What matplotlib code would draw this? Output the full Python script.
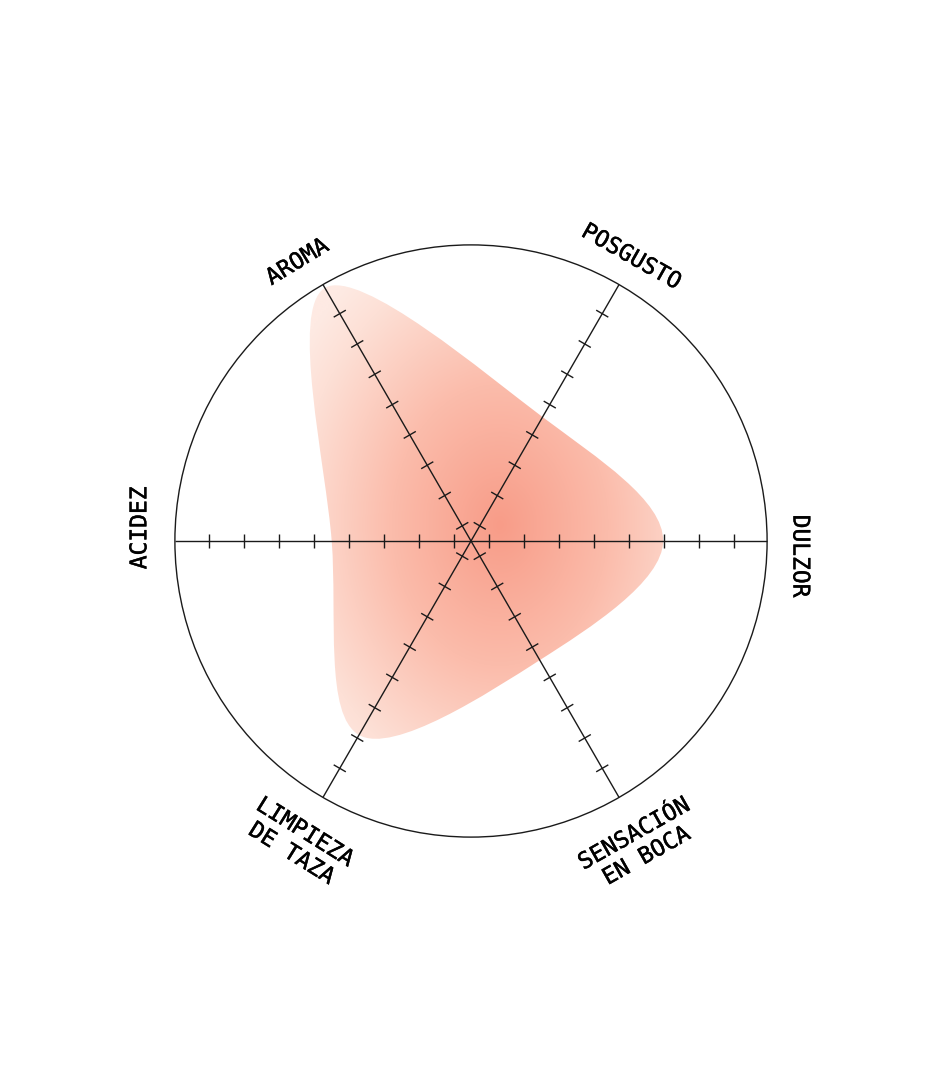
import matplotlib
matplotlib.use("Agg")
import matplotlib.pyplot as plt
import numpy as np
from matplotlib.path import Path
from matplotlib.patches import PathPatch, Circle
from matplotlib.collections import LineCollection
from matplotlib.colors import LinearSegmentedColormap
import matplotlib.patheffects as pe


# one axis per attribute, counter-clockwise from the right
labels = ["DULZOR", "POSGUSTO", "AROMA", "ACIDEZ", "LIMPIEZA\nDE TAZA", "SENSACIÓN\nEN BOCA"]
angles = [0, 60, 120, 180, 240, 300]
values = [5.49, 4.09, 8.35, 3.98, 6.4, 3.93]
ticks = [0.5, 1.5, 2.5, 3.5, 4.5, 5.5, 6.5, 7.5]
r_max = 8.46

# label placement (radius, angle, rotation)
label_r = [9.41, 9.32, 9.39, 9.47, 9.94, 9.94]
label_ang = [-2.6, 60.6, 121.9, 177.75, 240.2, 299.1]
label_rot = [-90, -29.5, 31.5, 90, -32, 29.5]

px = 35.0  # pixels per unit
cx, cy = 471, 541

fig = plt.figure(figsize=(9.5, 10.8), dpi=100)
ax = fig.add_axes([0, 0, 1, 1])
ax.set_xlim(-cx / px, (950 - cx) / px)
ax.set_ylim(-(1080 - cy) / px, cy / px)
ax.set_aspect("equal")
ax.axis("off")

th = np.deg2rad(angles)
vals = np.array(values)
pts = np.column_stack([vals * np.cos(th), vals * np.sin(th)])

# closed cardinal spline through the points, as cubic beziers
n = len(pts)
verts = [pts[0]]
codes = [Path.MOVETO]
for i in range(n):
    p0, p1, p2, p3 = pts[i - 1], pts[i], pts[(i + 1) % n], pts[(i + 2) % n]
    c1 = p1 + (p2 - p0) / 6
    c2 = p2 - (p3 - p1) / 6
    verts += [c1, c2, p2]
    codes += [Path.CURVE4] * 3
verts.append(pts[0])
codes.append(Path.CLOSEPOLY)
blob = PathPatch(Path(verts, codes), facecolor="none", edgecolor="none")
ax.add_patch(blob)

# radial gradient clipped to the blob
gx = np.linspace(-cx / px, (950 - cx) / px, 500)
gy = np.linspace(-(1080 - cy) / px, cy / px, 560)
X, Y = np.meshgrid(gx, gy)
d = np.sqrt(((X - 0.83) / 5.3) ** 2 + ((Y - 0.46) / 6.9) ** 2)
cmap = LinearSegmentedColormap.from_list(
    "peach", [(0, "#f89c88"), (0.45, "#fbbcab"), (0.85, "#fde0d6"), (1, "#feeae3")])
img = ax.imshow(np.clip(d / 1.3, 0, 1), cmap=cmap, vmin=0, vmax=1, origin="lower",
                extent=(gx[0], gx[-1], gy[0], gy[-1]), interpolation="bilinear", zorder=1)
img.set_clip_path(blob)

# outer circle
ax.add_patch(Circle((0, 0), r_max, fill=False, edgecolor="#1a1a1a", lw=1.0, zorder=3))

# spokes and ticks
segs = []
tick_segs = []
h = 0.2
for a in th:
    u = np.array([np.cos(a), np.sin(a)])
    nrm = np.array([-np.sin(a), np.cos(a)])
    segs.append([(0, 0), tuple(u * r_max)])
    for t in ticks:
        p = u * t
        tick_segs.append([tuple(p - nrm * h), tuple(p + nrm * h)])
ax.add_collection(LineCollection(segs, colors="#1a1a1a", linewidths=1.0, zorder=3))
ax.add_collection(LineCollection(tick_segs, colors="#1a1a1a", linewidths=1.0, zorder=3))

for lab, r, a, rot in zip(labels, label_r, label_ang, label_rot):
    ar = np.deg2rad(a)
    ax.text(r * np.cos(ar), r * np.sin(ar), lab, rotation=rot, rotation_mode="anchor",
            ha="center", va="center", multialignment="center", linespacing=1.12,
            fontsize=16.5, family="DejaVu Sans Mono", color="black", zorder=4,
            path_effects=[pe.withStroke(linewidth=0.3, foreground="black")])

fig.savefig("out.png", dpi=100)
